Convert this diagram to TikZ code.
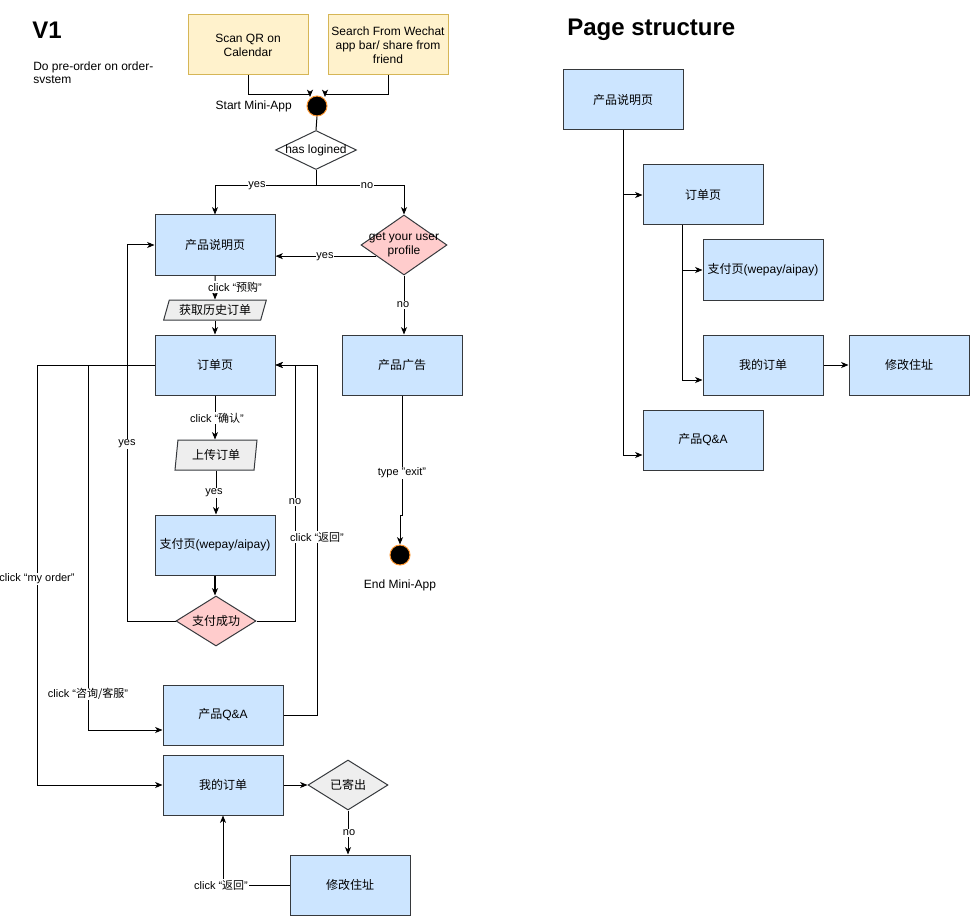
\documentclass[tikz,border=0pt]{standalone}
\usepackage{fontspec}
\setmainfont{Liberation Sans}
\newfontfamily\cjk{Noto Sans CJK SC}
\usetikzlibrary{shapes.geometric,arrows.meta,calc}
\definecolor{bluef}{HTML}{CCE5FF}
\definecolor{darks}{HTML}{36393D}
\definecolor{yelf}{HTML}{FFF2CC}
\definecolor{yels}{HTML}{D6B656}
\definecolor{pinkf}{HTML}{FFCCCC}
\definecolor{grayf}{HTML}{EEEEEE}
\definecolor{orng}{HTML}{FF9933}
\begin{document}
\begin{tikzpicture}[x=0.75pt,y=-0.75pt,
  boxfont/.style={font=\fontsize{9}{10.5}\selectfont},
  box/.style={rectangle, draw=darks, fill=bluef, line width=0.75pt, minimum width=90pt, minimum height=45pt, inner sep=0pt, align=center, boxfont},
  ybox/.style={box, draw=yels, fill=yelf},
  dia/.style={diamond, draw=darks, line width=0.75pt, inner sep=0pt},
  diatext/.style={inner sep=0pt, align=center, boxfont},
  para/.style={trapezium, trapezium stretches body, draw=darks, fill=grayf, line width=0.75pt, inner sep=0pt, boxfont},
  dot/.style={circle, fill=black, draw=orng, line width=0.75pt, minimum size=15pt, inner sep=0pt},
  lbl/.style={fill=white, inner sep=0.6pt, font=\fontsize{8.25}{9.5}\selectfont},
  txt/.style={inner sep=0pt, font=\fontsize{9}{9.75}\selectfont},
  title/.style={inner sep=0pt, anchor=west, font=\bfseries\fontsize{18}{20}\selectfont},
  arr/.style={draw=black, line width=0.75pt, -{Stealth[length=5.5pt,width=4.5pt,inset=1.5pt]}},
  ln/.style={draw=black, line width=0.75pt}]
\useasboundingbox (0,0) rectangle (970,916);

% ---------- V1 ----------
\node[title] (v1) at (32,30) {V1};
\node[txt, anchor=north west, align=left] (desc) at (33,62) {Do pre-order on order-\\svstem};

\node[ybox] (scan) at (248,45) {Scan QR on\\Calendar};
\node[ybox] (search) at (388,45) {Search From Wechat\\app bar/ share from\\friend};
\node[dot] (start) at (317,106) {};
\node[txt, anchor=east] (startlbl) at (292,106) {Start Mini-App};

\node[dia, fill=white, minimum width=60.75pt, minimum height=29.25pt] (login) at (316,150) {};
\node[diatext] (logintxt) at (login) {has logined};

\node[box] (prod) at (215,245) {\cjk 产品说明页};
\node[dia, fill=pinkf, minimum width=64.5pt, minimum height=45pt] (prof) at (404,245) {};
\node[diatext] (proftxt) at (prof) {get your user\\profile};

\node[para, trapezium left angle=63, trapezium right angle=117, minimum width=77pt, minimum height=15pt] (hist) at (215,310) {\cjk 获取历史订单};
\node[box] (ordp) at (215,365) {\cjk 订单页};
\node[box] (ad) at (402,365) {\cjk 产品广告};
\node[para, trapezium left angle=75, trapezium right angle=105, minimum width=61.5pt, minimum height=22.5pt] (upl) at (216,455) {\cjk 上传订单};
\node[box] (pay) at (215,545) {{\cjk 支付页}(wepay/aipay)};
\node[dia, fill=pinkf, minimum width=60pt, minimum height=37.5pt] (succ) at (216,621) {};
\node[diatext] (succtxt) at (succ) {\cjk 支付成功};
\node[dot] (end) at (400,555) {};
\node[txt] (endlbl) at (400,585) {End Mini-App};

\node[box] (qa) at (223,715) {{\cjk 产品}Q\&A};
\node[box] (myo) at (223,785) {\cjk 我的订单};
\node[dia, fill=grayf, minimum width=60pt, minimum height=37.5pt] (sent) at (348,785) {};
\node[diatext] (senttxt) at (sent) {\cjk 已寄出};
\node[box] (addr) at (350,885) {\cjk 修改住址};

% connectors
\draw[arr] (scan.south) |- (310,95) -- (310,97);
\draw[arr] (search.south) |- (325,95) -- (325,97);
\draw[ln] (start.south) -- (login.north);
\draw[arr] (login.south) -- ++(0,16) -| (prod.north);
\draw[arr] (login.south) -- ++(0,16) -| (prof.north);
\node[lbl] at (257,186) {yes};
\node[lbl] at (367,186) {no};

\draw[arr] (prof.202) -- (prof.202 -| prod.east);
\node[lbl] at (325,257) {yes};
\draw[arr] (prof.south) -- (prof.south |- ad.north);
\node[lbl] at (403,305) {no};
\draw[arr] (ad.south) -- (402,515) -| (end.north);
\node[lbl] at (402,473) {type "exit"};

\draw[arr] (prod.south) -- (hist.north);
\node[lbl] at (235,287) {click “{\cjk 预购}”};
\draw[arr] (hist.south) -- (hist.south |- ordp.north);
\draw[arr] (ordp.south) -- (ordp.south |- upl.north);
\node[lbl] at (217,418) {click “{\cjk 确认}”};
\draw[arr] (upl.south) -- (upl.south |- pay.north);
\node[lbl] at (214,493) {yes};
\draw[arr, line width=1.5pt] (pay.south) -- (pay.south |- succ.north);

\draw[arr] (succ.west) -- (127,621) |- (prod.west);
\node[lbl] at (127,444) {yes};
\draw[arr] (succ.east) -- (295,621) |- (ordp.east);
\node[lbl] at (295,502) {no};
\draw[arr] (qa.east) -- (317,715) |- (ordp.east);
\node[lbl] at (317,537) {click “{\cjk 返回}”};
\draw[arr] (ordp.west) -- (88,365) |- ($(qa.west)+(0,15)$);
\node[lbl] at (88,694) {click “{\cjk 咨询/客服}”};
\draw[arr] (ordp.west) -- (37,365) |- (myo.west);
\node[lbl] at (37,579) {click “my order”};
\draw[arr] (myo.east) -- (sent.west);
\draw[arr] (sent.south) -- (sent.south |- addr.north);
\node[lbl] at (349,833) {no};
\draw[arr] (addr.west) -| (myo.south);
\node[lbl] at (221,885) {click “{\cjk 返回}”};

% ---------- Page structure ----------
\node[title] (pstitle) at (567,30) {Page structure};
\node[box] (ps1) at (623,100) {\cjk 产品说明页};
\node[box] (ps2) at (703,195) {\cjk 订单页};
\node[box] (ps3) at (763,270) {{\cjk 支付页}(wepay/aipay)};
\node[box] (ps4) at (763,365) {\cjk 我的订单};
\node[box] (ps5) at (909,365) {\cjk 修改住址};
\node[box] (ps6) at (703,440) {{\cjk 产品}Q\&A};

\draw[arr] (ps1.south) |- (ps2.west);
\draw[arr] (ps1.south) |- ($(ps6.west)+(0,15)$);
\draw[arr] ($(ps2.south)+(-21,0)$) |- (ps3.west);
\draw[arr] ($(ps2.south)+(-21,0)$) |- ($(ps4.west)+(0,15)$);
\draw[arr] (ps4.east) -- (ps5.west);
\end{tikzpicture}
\end{document}
